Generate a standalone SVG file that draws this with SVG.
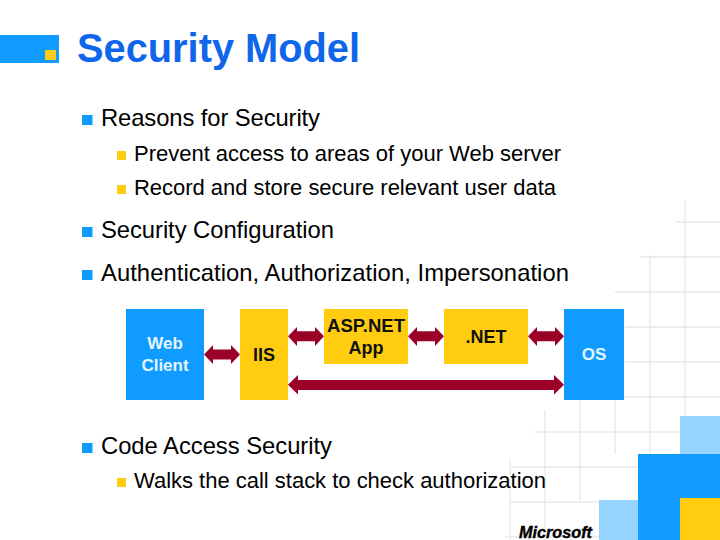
<svg xmlns="http://www.w3.org/2000/svg" width="720" height="540" viewBox="0 0 720 540">
<style>
text{font-family:"Liberation Sans",Arial,sans-serif}
.g{stroke:#e9e9e9;stroke-width:1.3;fill:none}
.title{font-size:39.8px;font-weight:bold;fill:#0f66ea}
.l1{font-size:23.8px;fill:#000}
.l2{font-size:22px;fill:#000}
.b1{fill:#0f9bff}
.b2{fill:#ffcc0f}
.blue{fill:#0f9bff}
.yel{fill:#ffcc0f}
.light{fill:#96d4ff}
.arr{fill:#9a0028}
.nb{font-size:17px;font-weight:bold;fill:#e4f6ff;text-anchor:middle}
.ny{font-size:18px;font-weight:bold;fill:#111;text-anchor:middle}
</style>
<rect width="720" height="540" fill="#fff"/>
<g id="grid" class="g">
<path d="M675 222H720M640 257H720M615 292H720M625 327H720M625 362H720M625 397H720M535 432H680M510 467H638M510 502H600M505 537H600"/>
<path d="M685 200V416M650 255V454M615 400V454M580 400V500M545 410V540M510 460V540"/>
</g>
<g id="decor">
<rect x="0" y="35" width="59" height="28" class="blue"/>
<rect x="45" y="50" width="11" height="10" class="yel"/>
<rect x="680" y="416" width="40" height="40" class="light"/>
<rect x="599" y="500" width="40" height="40" class="light"/>
<rect x="638" y="454" width="82" height="86" class="blue"/>
<rect x="680" y="498" width="40" height="42" class="yel"/>
<text x="519" y="538" font-size="16.5" font-weight="bold" font-style="italic" fill="#000" stroke="#000" stroke-width=".4" textLength="73" lengthAdjust="spacingAndGlyphs">Microsoft</text>
</g>
<text class="title" x="77" y="61.5" textLength="283" lengthAdjust="spacingAndGlyphs">Security Model</text>
<g id="bullets">
<rect class="b1" x="82" y="115" width="10.5" height="10"/>
<rect class="b2" x="117" y="151" width="9" height="9"/>
<rect class="b2" x="117" y="185" width="9" height="9"/>
<rect class="b1" x="82" y="227" width="10.5" height="10"/>
<rect class="b1" x="82" y="270" width="10.5" height="10"/>
<rect class="b1" x="82" y="443" width="10.5" height="10"/>
<rect class="b2" x="117" y="478" width="9" height="9"/>
</g>
<text class="l1" x="101" y="126" textLength="219">Reasons for Security</text>
<text class="l2" x="134" y="161" textLength="427">Prevent access to areas of your Web server</text>
<text class="l2" x="134" y="195" textLength="422">Record and store secure relevant user data</text>
<text class="l1" x="101" y="238" textLength="233">Security Configuration</text>
<text class="l1" x="101" y="281" textLength="468">Authentication, Authorization, Impersonation</text>
<text class="l1" x="101" y="454" textLength="231">Code Access Security</text>
<text class="l2" x="134" y="488" textLength="412">Walks the call stack to check authorization</text>
<g id="connectors" class="arr">
<polygon points="204,354.5 213,345 213,349.5 231,349.5 231,345 240,354.5 231,364 231,359.5 213,359.5 213,364"/>
<polygon points="288,336.3 297,327 297,331.3 315,331.3 315,327 324,336.3 315,346 315,341.3 297,341.3 297,346"/>
<polygon points="408,336.3 417,327 417,331.3 435,331.3 435,327 444,336.3 435,346 435,341.3 417,341.3 417,346"/>
<polygon points="528,336.3 537,327 537,331.3 555,331.3 555,327 564,336.3 555,346 555,341.3 537,341.3 537,346"/>
<polygon points="288,384.7 298,375 298,380 554,380 554,375 564,384.7 554,394.5 554,390 298,390 298,394.5"/>
</g>
<g id="web-client"><rect x="126" y="309" width="78" height="91" class="blue"/><text class="nb" x="165" y="349">Web</text><text class="nb" x="165" y="371">Client</text></g>
<g id="iis"><rect x="240" y="309" width="48" height="91" class="yel"/><text class="ny" x="264" y="361">IIS</text></g>
<g id="asp-net"><rect x="324" y="309" width="84" height="55" class="yel"/><text class="ny" x="366" y="331.5" textLength="78" lengthAdjust="spacingAndGlyphs">ASP.NET</text><text class="ny" x="366" y="353.5">App</text></g>
<g id="net"><rect x="444" y="309" width="84" height="55" class="yel"/><text class="ny" x="486" y="343">.NET</text></g>
<g id="os"><rect x="564" y="309" width="60" height="91" class="blue"/><text class="nb" x="594" y="360">OS</text></g>
</svg>
